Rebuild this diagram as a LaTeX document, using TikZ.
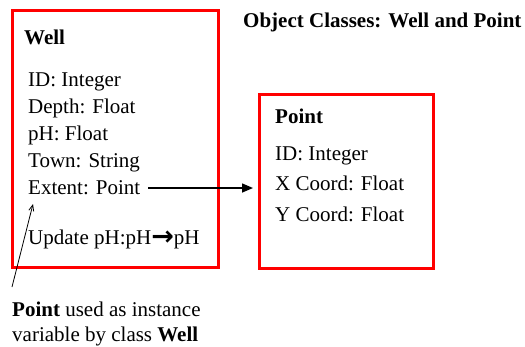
\documentclass[tikz,border=0pt]{standalone}
\usepackage{fontspec}
\setmainfont{Liberation Serif}
\newfontfamily\arrowfont{DejaVu Sans}
\usetikzlibrary{arrows.meta}
\begin{document}
\begin{tikzpicture}[x=1pt,y=-1pt,
  txt/.style={anchor=base west,inner sep=0pt,font=\fontsize{21}{27}\selectfont},
  classbox/.style={draw=red,line width=3pt,inner sep=0pt,anchor=north west},
  link/.style={line width=1.5pt,-{Triangle[length=11pt,width=9pt]}},
  note/.style={line width=0.8pt,-{Straight Barb[length=6pt,width=5pt]}}]
\useasboundingbox (0,0) rectangle (525,346);
% boxes
\node[classbox,minimum width=206pt,minimum height=257pt] (wellbox) at (11,9) {};
\node[classbox,minimum width=174pt,minimum height=174pt] (pointbox) at (258,93) {};
% title
\node[txt,font=\fontsize{21}{27}\selectfont\bfseries] (title) at (243,27) {Object Classes: Well and Point};
% Well class
\node[txt,font=\fontsize{21}{27}\selectfont\bfseries] (wname) at (24,44) {Well};
\node[txt] (wid) at (28,86) {ID: Integer};
\node[txt] (wdepth) at (28,113) {Depth: Float};
\node[txt] (wph) at (28,140) {pH: Float};
\node[txt] (wtown) at (28,167) {Town: String};
\node[txt] (wext) at (28,194) {Extent: Point};
\node[txt] (wupd) at (28,244) {Update pH:pH{\bfseries\arrowfont\fontsize{27}{27}\selectfont\raisebox{-1pt}{→}}pH};
% Point class
\node[txt,font=\fontsize{21}{27}\selectfont\bfseries] (pname) at (275,123) {Point};
\node[txt] (pid) at (275,160) {ID: Integer};
\node[txt] (px) at (275,190) {X Coord: Float};
\node[txt] (py) at (275,221) {Y Coord: Float};
% note
\node[txt] (note1) at (12,316) {\textbf{Point} used as instance};
\node[txt] (note2) at (12,341) {variable by class \textbf{Well}};
% connectors
\coordinate (linkstart) at (148,188);
\coordinate (linkend) at (253,188);
\draw[link] (linkstart) -- (linkend);
\coordinate (notestart) at (12,287);
\coordinate (noteend) at (33,204);
\draw[note] (notestart) -- (noteend);
\end{tikzpicture}
\end{document}
